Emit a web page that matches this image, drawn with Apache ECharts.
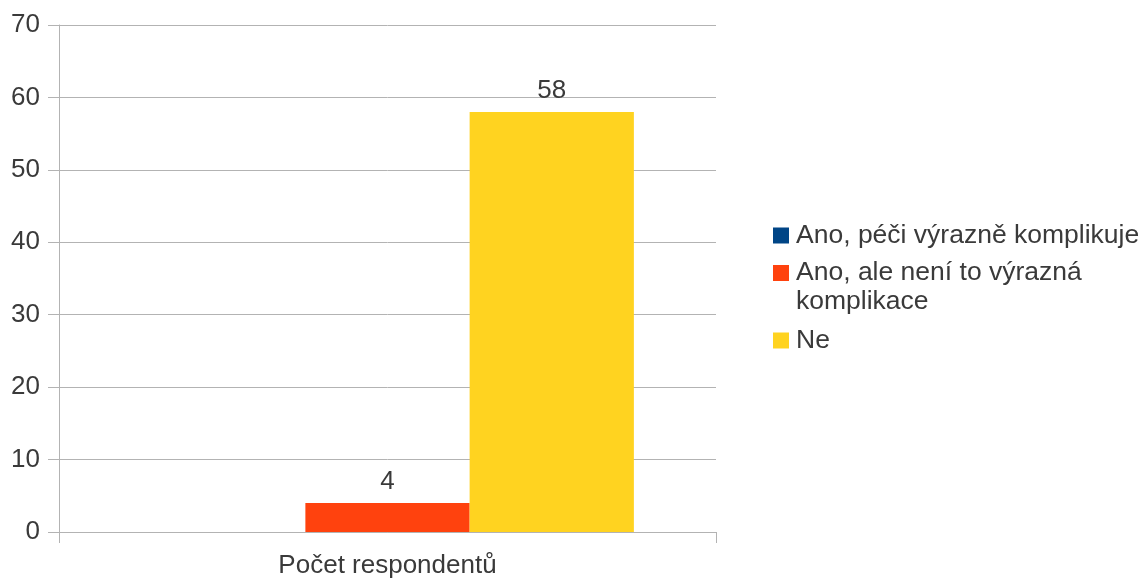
<!DOCTYPE html>
<html>
<head>
<meta charset="utf-8">
<script src="https://cdn.jsdelivr.net/npm/echarts@6/dist/echarts.min.js"></script>
<style>
  html, body { margin: 0; padding: 0; background: #ffffff; }
  #chart { width: 1143px; height: 579px; }
</style>
</head>
<body>
<div id="chart"></div>
<script>
// Survey answers: counts of respondents per answer
const categories = ['Počet respondentů'];
const seriesNames = ['Ano, péči výrazně komplikuje', 'Ano, ale není to výrazná komplikace', 'Ne'];
const seriesValues = [[0], [4], [58]];
const seriesColors = ['#004586', '#ff420e', '#ffd320'];
const yTicks = { min: 0, max: 70, interval: 10 };

const FONT = 'Liberation Sans, Arial, sans-serif';
const TEXT = '#3a3a3a';
const GRID = '#b3b3b3';

const chart = echarts.init(document.getElementById('chart'), null, { renderer: 'canvas' });

const series = seriesNames.map((name, i) => ({
  name: name,
  type: 'bar',
  data: seriesValues[i],
  barGap: '0%',
  barCategoryGap: '25%',
  itemStyle: { color: seriesColors[i] },
  label: {
    show: true,
    position: 'top',
    distance: 8,
    color: TEXT,
    fontFamily: FONT,
    fontSize: 26,
    formatter: p => (p.value === 0 ? '' : String(p.value))
  }
}));

const legendBase = {
  orient: 'vertical',
  left: 773,
  padding: 0,
  itemWidth: 16,
  itemHeight: 16,
  itemGap: 7,
  icon: 'rect',
  textStyle: {
    color: TEXT, fontFamily: FONT, fontSize: 26.5, lineHeight: 29,
    padding: [4, 0, 0, 2]
  }
};

chart.setOption({
  animation: false,
  backgroundColor: '#ffffff',
  grid: { left: 59, right: 427, top: 25, bottom: 47, containLabel: false },
  xAxis: {
    type: 'category',
    data: categories,
    axisLine: { show: true, lineStyle: { color: GRID, width: 1 } },
    axisTick: { show: true, length: 11, lineStyle: { color: GRID } },
    axisLabel: { color: TEXT, fontFamily: FONT, fontSize: 26, margin: 21 }
  },
  yAxis: {
    type: 'value',
    min: yTicks.min,
    max: yTicks.max,
    interval: yTicks.interval,
    axisLine: { show: true, lineStyle: { color: GRID, width: 1 } },
    axisTick: { show: true, length: 11, lineStyle: { color: GRID } },
    axisLabel: { color: TEXT, fontFamily: FONT, fontSize: 26, margin: 19 },
    splitLine: { show: true, lineStyle: { color: GRID, width: 1 } }
  },
  legend: [
    Object.assign({}, legendBase, { top: 219, data: [seriesNames[0]] }),
    // two-line entry: taller icon box with the square at its top,
    // so the swatch lines up with the first text line
    Object.assign({}, legendBase, {
      top: 256,
      itemHeight: 44,
      icon: 'path://M0,0h16v16h-16z M0,44L16,44',
      data: [seriesNames[1]],
      formatter: n => n === seriesNames[1] ? 'Ano, ale není to výrazná\nkomplikace' : n
    }),
    Object.assign({}, legendBase, { top: 324, data: [seriesNames[2]] })
  ],
  series: series
});
</script>
</body>
</html>
